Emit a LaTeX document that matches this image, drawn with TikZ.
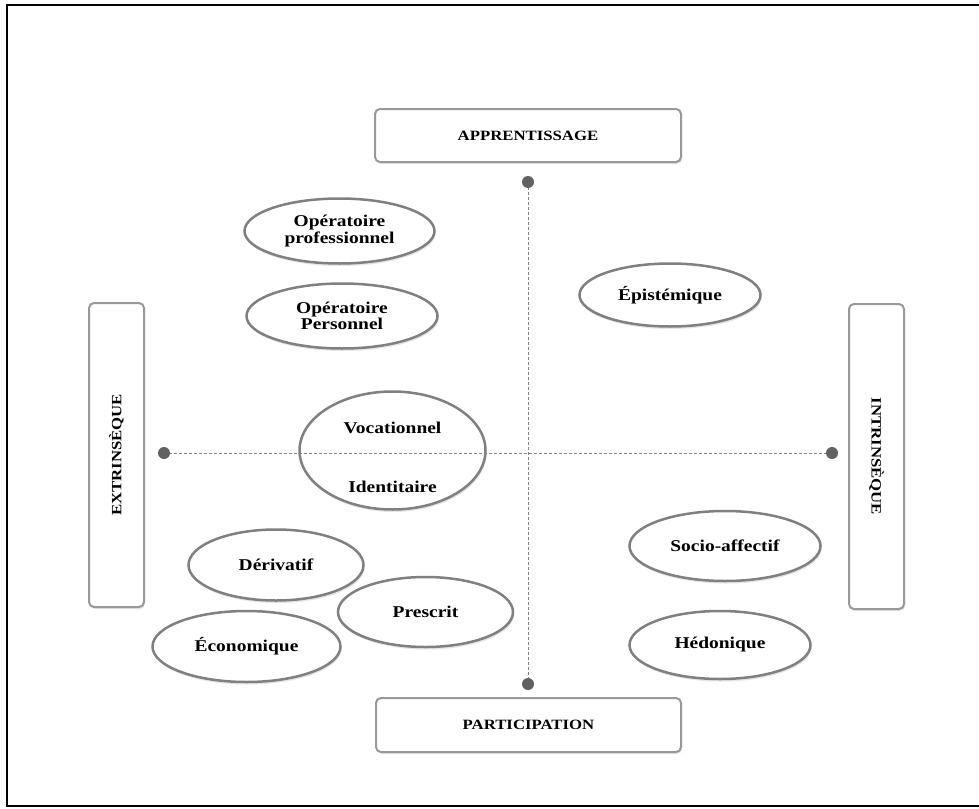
\documentclass[tikz,border=0pt]{standalone}
\usepackage{fontspec}
\setmainfont{Liberation Serif}[FakeStretch=1.18]
\usetikzlibrary{shapes.geometric,shadows}
\begin{document}
\begin{tikzpicture}[x=1pt,y=-1pt,
  oval/.style={ellipse, draw=black!50, line width=2.5pt, fill=white, inner sep=0pt,
    align=center, font=\bfseries\fontsize{16.5}{16.5}\selectfont,
    drop shadow={shadow xshift=1pt, shadow yshift=-2.5pt, fill=black!10, opacity=1}},
  labelbox/.style={rectangle, rounded corners=5pt, draw=black!40, line width=2pt, fill=white,
    inner sep=0pt, font=\bfseries\fontsize{14.2}{15}\selectfont,
    drop shadow={shadow xshift=1pt, shadow yshift=-2pt, fill=black!10, opacity=1}},
  dotmark/.style={circle, fill=black!62, minimum size=12pt, inner sep=0pt},
  axisline/.style={draw=black!50, line width=0.9pt, dash pattern=on 3pt off 2pt},
  txt/.style={inner sep=0pt, font=\bfseries\fontsize{16.5}{16.5}\selectfont}
]
\useasboundingbox (0,0) rectangle (979,808);
\fill[white] (0,0) rectangle (979,808);
\draw[line width=1.5pt, black] (980,5) -- (7,5) -- (7,806) -- (980,806);

% boxes
\node[labelbox, minimum width=306pt, minimum height=53pt] (app) at (528,135.5) {APPRENTISSAGE};
\node[labelbox, minimum width=305pt, minimum height=54pt] (par) at (528.5,725) {PARTICIPATION};
\node[labelbox, minimum width=304pt, minimum height=55pt, rotate=90] (ext) at (116.5,455) {EXTRINSÈQUE};
\node[labelbox, minimum width=305pt, minimum height=55pt, rotate=-90] (int) at (876.5,456.5) {INTRINSÈQUE};

% ellipses
\node[oval, minimum width=190pt, minimum height=65pt] (op1) at (339.5,231) {Opératoire\\professionnel};
\node[oval, minimum width=191pt, minimum height=65pt] (op2) at (342,316) {Opératoire\\Personnel};
\node[oval, minimum width=181pt, minimum height=63pt] (epi) at (670,295) {Épistémique};
\node[oval, minimum width=186pt, minimum height=118pt] (voc) at (392.5,450.5) {};
\node[oval, minimum width=175pt, minimum height=71pt] (der) at (276,565) {Dérivatif};
\node[oval, minimum width=175pt, minimum height=70pt] (pre) at (425.5,612) {Prescrit};
\node[oval, minimum width=188pt, minimum height=71pt] (eco) at (246.5,646.5) {Économique};
\node[oval, minimum width=191pt, minimum height=70pt] (soc) at (725,546) {Socio-affectif};
\node[oval, minimum width=181pt, minimum height=68pt] (hed) at (720,645) {Hédonique};

% axes
\coordinate (cT) at (528,182);
\coordinate (cB) at (528,684);
\coordinate (cL) at (164,453);
\coordinate (cR) at (832,453);
\draw[axisline] (cT) -- (cB);
\draw[axisline] (cL) -- (cR);
\node[dotmark] (dT) at (cT) {};
\node[dotmark] (dB) at (cB) {};
\node[dotmark] (dL) at (cL) {};
\node[dotmark] (dR) at (cR) {};

% texts in the large ellipse
\node[txt] (vocA) at (392.5,428) {Vocationnel};
\node[txt] (vocB) at (392.5,487) {Identitaire};
\end{tikzpicture}
\end{document}
